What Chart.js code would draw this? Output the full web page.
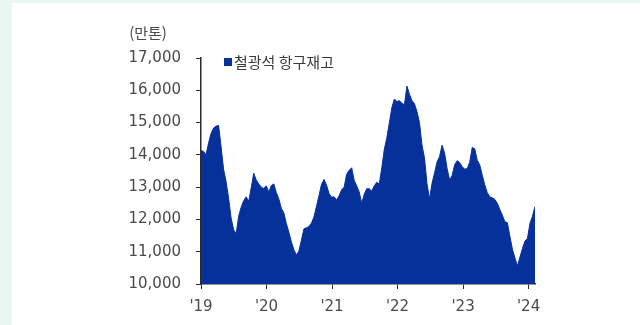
<!DOCTYPE html>
<html lang="ko">
<head>
<meta charset="utf-8">
<title>철광석 항구재고</title>
<script src="https://cdn.jsdelivr.net/npm/chart.js@4.4.1/dist/chart.umd.min.js"></script>
<style>
    html, body {
        margin: 0;
        padding: 0;
        width: 640px;
        height: 325px;
        overflow: hidden;
        background: #e9f6f1;
    }
    .sheet {
        position: absolute;
        left: 12px;
        top: 3px;
        right: 0;
        bottom: 0;
        background: #ffffff;
    }
    .chart-box {
        position: absolute;
        left: 0;
        top: 0;
        width: 640px;
        height: 325px;
    }
</style>
</head>
<body>
<div class="sheet"></div>
<div class="chart-box"><canvas id="inventoryChart"></canvas></div>
<script>
// Biweekly series, first point at the start of 2019
const startYear = 2019;
const stepDays = 14;
const inventory = [
    14130, 14110, 14000, 14360, 14660, 14830, 14890, 14910, 14250, 13550,
    13170, 12650, 12040, 11680, 11560, 12100, 12380, 12580, 12700, 12560,
    12980, 13430, 13220, 13100, 13000, 12960, 13040, 12850, 13050, 13100,
    12830, 12630, 12340, 12200, 11870, 11600, 11300, 11060, 10900, 11020,
    11360, 11710, 11740, 11780, 11890, 12080, 12410, 12740, 13090, 13240,
    13060, 12800, 12690, 12700, 12600, 12730, 12920, 13000, 13400, 13520,
    13600, 13210, 13040, 12850, 12500, 12780, 12950, 12950, 12880, 13040,
    13150, 13100, 13600, 14170, 14530, 14990, 15460, 15730, 15650, 15680,
    15600, 15550, 16130, 15880, 15680, 15580, 15340, 15000, 14300, 13900,
    13100, 12630, 13120, 13440, 13780, 13950, 14300, 14050, 13580, 13220,
    13360, 13690, 13820, 13760, 13630, 13560, 13570, 13770, 14230, 14190,
    13830, 13690, 13370, 13070, 12830, 12700, 12670, 12620, 12500, 12310,
    12130, 11930, 11900, 11480, 11080, 10810, 10560, 10830, 11100, 11330,
    11410, 11880, 12100, 12400
];

const yearTicks = [2019, 2020, 2021, 2022, 2023, 2024];
const yearLabels = ["'19", "'20", "'21", "'22", "'23", "'24"];
const seriesName = '철광석 항구재고';
const unitLabel = '(만톤)';

const fillColor = '#06309a';
const axisColor = '#2b2b2b';
const labelColor = '#4a4a4a';

const points = inventory.map((v, i) => ({ x: startYear + i * stepDays / 365.25, y: v }));

// unit caption above the y labels and the small legend inside the plot
const captionPlugin = {
    id: 'captions',
    afterDraw(chart) {
        const { ctx, chartArea } = chart;
        ctx.save();
        ctx.fillStyle = labelColor;
        ctx.font = '15px "Noto Sans CJK KR", "DejaVu Sans", sans-serif';
        ctx.textAlign = 'center';
        ctx.textBaseline = 'middle';
        ctx.fillText(unitLabel, chartArea.left - 53, 33);

        ctx.fillStyle = fillColor;
        ctx.fillRect(chartArea.left + 23, 58, 8, 8);
        ctx.fillStyle = '#3a3a3a';
        ctx.textAlign = 'left';
        ctx.fillText(seriesName, chartArea.left + 33, 62);
        ctx.restore();
    }
};

const ctx = document.getElementById('inventoryChart').getContext('2d');
const inventoryChart = new Chart(ctx, {
    type: 'line',
    data: {
        datasets: [{
            label: seriesName,
            data: points,
            borderColor: fillColor,
            backgroundColor: fillColor,
            borderWidth: 1,
            pointRadius: 0,
            tension: 0,
            fill: 'start'
        }]
    },
    options: {
        responsive: true,
        maintainAspectRatio: false,
        animation: false,
        layout: {
            padding: { top: 58, right: 105, bottom: 0, left: 0 }
        },
        plugins: {
            legend: { display: false },
            tooltip: { enabled: false }
        },
        scales: {
            x: {
                type: 'linear',
                min: startYear,
                max: points[points.length - 1].x,
                afterFit: scale => { scale.height = 41; },
                afterBuildTicks: scale => {
                    scale.ticks = yearTicks.map(v => ({ value: v }));
                },
                ticks: {
                    includeBounds: false,
                    autoSkip: false,
                    maxRotation: 0,
                    padding: 9,
                    color: labelColor,
                    font: { family: '"DejaVu Sans", sans-serif', size: 15 },
                    callback: value => yearLabels[yearTicks.indexOf(value)] || ''
                },
                grid: {
                    drawOnChartArea: false,
                    drawTicks: true,
                    tickLength: 5,
                    color: axisColor
                },
                border: { display: true, color: axisColor, width: 1.5 }
            },
            y: {
                min: 10000,
                max: 17000,
                afterFit: scale => { scale.width = 201; },
                ticks: {
                    stepSize: 1000,
                    padding: 15,
                    color: labelColor,
                    font: { family: '"DejaVu Sans", sans-serif', size: 15 },
                    callback: value => value.toLocaleString('en-US')
                },
                grid: {
                    drawOnChartArea: false,
                    drawTicks: true,
                    tickLength: 5,
                    color: axisColor
                },
                border: { display: true, color: axisColor, width: 1.5 }
            }
        }
    },
    plugins: [captionPlugin]
});
</script>
</body>
</html>
